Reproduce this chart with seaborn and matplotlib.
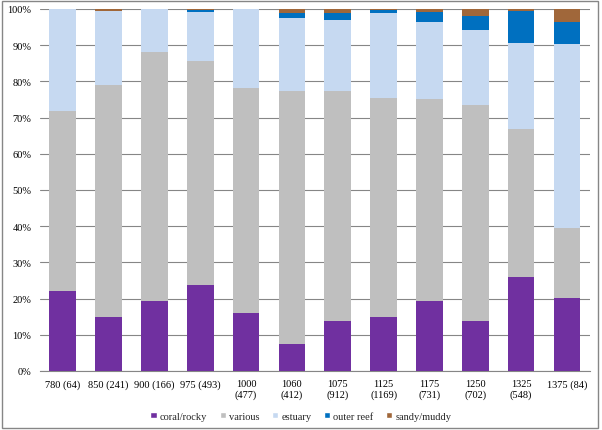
import numpy as np
import pandas as pd
import matplotlib
matplotlib.use("Agg")
import matplotlib.pyplot as plt
import seaborn as sns
from matplotlib.patches import Patch, Rectangle

sns.set_style("white")
plt.rcParams['font.family'] = ['Liberation Serif', 'DejaVu Serif']

labels = ["780 (64)", "850 (241)", "900 (166)", "975 (493)", "1000\n(477)",
          "1060\n(412)", "1075\n(912)", "1125\n(1169)", "1175\n(731)",
          "1250\n(702)", "1325\n(548)", "1375 (84)"]

# percent of each habitat per bin
coral = [22.0, 15.0, 19.3, 23.8, 16.0, 7.5, 13.8, 14.9, 19.3, 13.8, 26.0, 20.2]
various = [49.8, 64.0, 68.7, 61.8, 62.2, 69.8, 63.5, 60.5, 55.8, 59.7, 40.9, 19.3]
estuary = [28.2, 20.4, 12.0, 13.6, 21.8, 20.2, 19.5, 23.6, 21.2, 20.8, 23.6, 50.8]
outer_reef = [0.0, 0.0, 0.0, 0.5, 0.0, 1.5, 2.0, 0.7, 2.8, 3.7, 8.8, 6.0]
sandy = [0.0, 0.6, 0.0, 0.3, 0.0, 1.0, 1.2, 0.3, 0.9, 2.0, 0.7, 3.7]

series = ["coral/rocky", "various", "estuary", "outer reef", "sandy/muddy"]
colors = ["#7030A0", "#BFBFBF", "#C6D9F1", "#0070C0", "#A0673A"]

df = pd.DataFrame({"coral/rocky": coral, "various": various, "estuary": estuary,
                   "outer reef": outer_reef, "sandy/muddy": sandy}, index=labels)
cum = df[series].cumsum(axis=1)

fig = plt.figure(figsize=(6.02, 4.31), dpi=100)
ax = fig.add_axes([0.066, 0.137, 0.914, 0.84])

# draw cumulative totals from the top layer down so they stack
for s, c in reversed(list(zip(series, colors))):
    sns.barplot(x=labels, y=cum[s].values, color=c, width=0.58,
                saturation=1, ax=ax, zorder=3, linewidth=0)

ax.set_ylim(0, 100)
ax.set_xlim(-0.5, len(labels) - 0.5)
ax.set_yticks(np.arange(0, 101, 10))
ax.set_yticklabels([f"{v}%" for v in range(0, 101, 10)])
ax.yaxis.grid(True, color="#868686", linewidth=0.8, zorder=0)
ax.set_axisbelow(True)
for sp in ["top", "right", "left"]:
    ax.spines[sp].set_visible(False)
ax.spines["bottom"].set_color("#868686")
ax.tick_params(axis="both", labelsize=7.5, length=0, colors="black")
ax.tick_params(axis="x", pad=6)
ax.tick_params(axis="y", pad=6)
ax.set_xlabel("")
ax.set_ylabel("")

handles = [Patch(facecolor=c, label=s) for s, c in zip(series, colors)]
fig.legend(handles=handles, loc="lower center", bbox_to_anchor=(0.5, 0.0),
           ncol=5, frameon=False, fontsize=7.5, handlelength=0.6,
           handleheight=0.6, handletextpad=0.3, columnspacing=1.2)

fig.patches.append(Rectangle((0.003, 0.005), 0.99, 0.99, transform=fig.transFigure,
                             fill=False, edgecolor="#868686", linewidth=1))

fig.savefig("out.png", dpi=100)
